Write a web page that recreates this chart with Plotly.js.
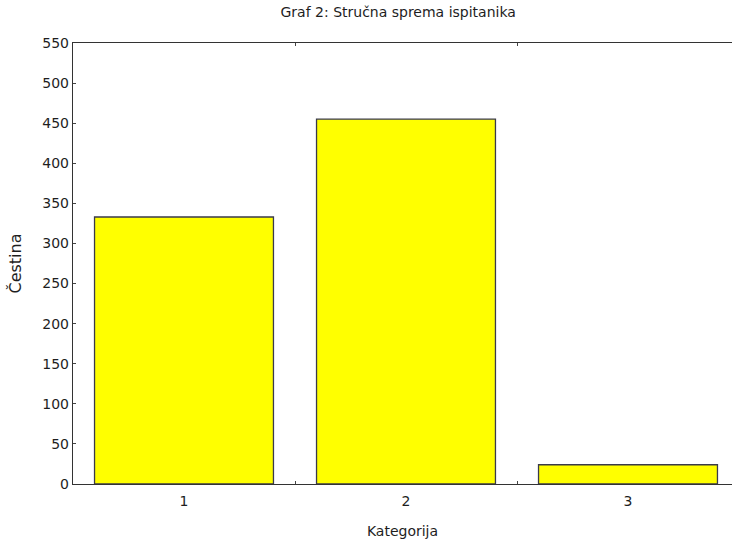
<!DOCTYPE html>
<html>
<head>
<meta charset="utf-8">
<script src="https://cdn.plot.ly/plotly-3.0.1.min.js"></script>
<style>html,body{margin:0;padding:0;background:#fff;overflow:hidden}</style>
</head>
<body>
<div id="chart" style="width:732px;height:540px"></div>
<script>
const categories = ["1", "2", "3"];
const frequencies = [333, 455, 24];
const yTicks = [0, 50, 100, 150, 200, 250, 300, 350, 400, 450, 500, 550];

const trace = {
  type: "bar",
  x: categories,
  y: frequencies,
  marker: { color: "#ffff00", line: { color: "#3a3a4a", width: 1.3 } },
  hoverinfo: "x+y"
};

const layout = {
  width: 732,
  height: 540,
  margin: { l: 73, r: 0, t: 43, b: 56 },
  paper_bgcolor: "#ffffff",
  plot_bgcolor: "#ffffff",
  font: { family: "DejaVu Sans, Liberation Sans, Arial, sans-serif", color: "#1e1e1e", size: 14 },
  bargap: 0.194,
  showlegend: false,
  title: {
    text: "Graf 2: Stručna sprema ispitanika",
    font: { size: 14, color: "#1e1e1e" },
    x: 0.544, xanchor: "center",
    y: 0.977, yanchor: "middle"
  },
  xaxis: {
    type: "category",
    range: [-0.5, 2.4685],
    tickson: "boundaries",
    ticks: "inside",
    ticklen: 3,
    tickcolor: "#444",
    showline: true,
    linecolor: "#333",
    linewidth: 1.2,
    mirror: "ticks",
    showgrid: false,
    zeroline: false,
    ticklabelstandoff: 4,
    tickfont: { size: 14 },
    title: { text: "Kategorija", font: { size: 14 }, standoff: 18 }
  },
  yaxis: {
    range: [0, 550],
    tickvals: yTicks,
    ticks: "inside",
    ticklen: 3,
    tickcolor: "#444",
    showline: true,
    linecolor: "#333",
    linewidth: 1.2,
    showgrid: false,
    zeroline: false,
    tickfont: { size: 14 },
    title: { text: "Čestina", font: { size: 16 }, standoff: 16 }
  }
};

Plotly.newPlot("chart", [trace], layout, { displayModeBar: false, staticPlot: true });
</script>
</body>
</html>
